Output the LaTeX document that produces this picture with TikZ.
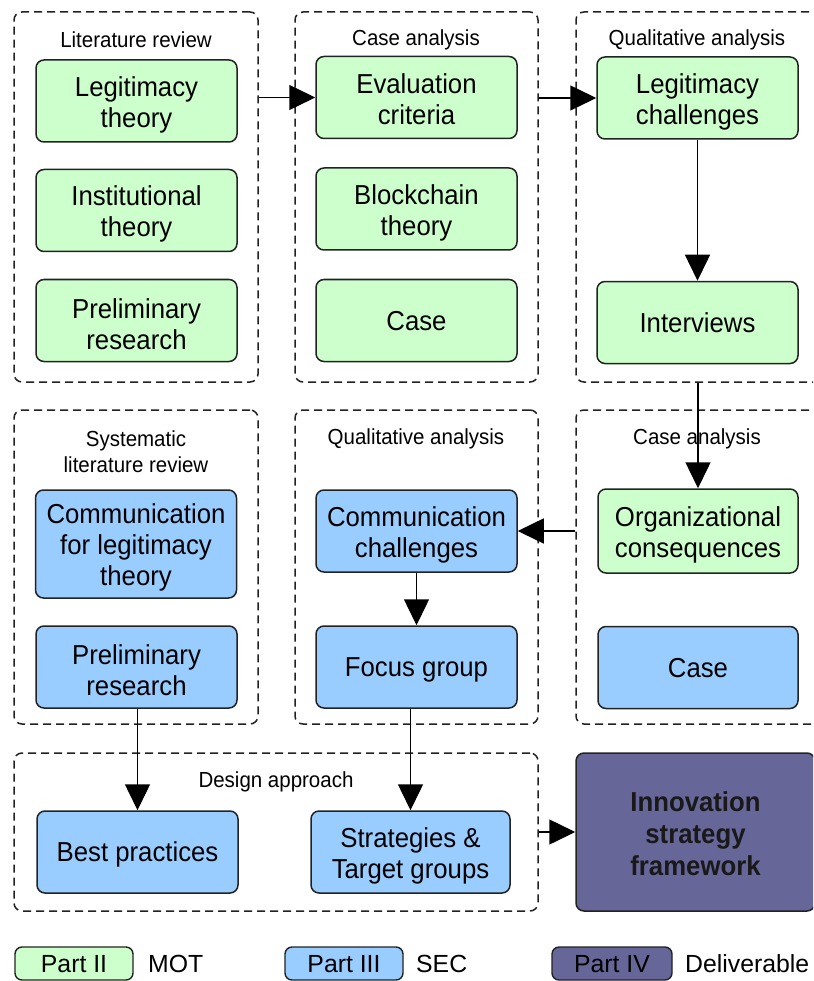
\documentclass[tikz,border=0pt]{standalone}
\usepackage{fontspec}
\setmainfont[FakeStretch=0.94]{Liberation Sans}
\newfontfamily\legendfont{Liberation Sans}
\usetikzlibrary{arrows.meta}
\definecolor{motgreen}{HTML}{CCFFCC}
\definecolor{secblue}{HTML}{99CCFF}
\definecolor{delpurple}{HTML}{666699}
\definecolor{edgegray}{HTML}{222222}
\tikzset{
  stage/.style={draw=edgegray, line width=1.5pt, dash pattern=on 8pt off 5pt,
    rounded corners=8pt, inner sep=0pt},
  stagetitle/.style={font=\fontsize{21.8}{26}\selectfont, align=center, inner sep=0pt},
  item/.style={draw=edgegray, line width=1.5pt, rounded corners=8pt,
    minimum width=201pt, minimum height=82pt, inner sep=0pt},
  itembase/.style={align=center, inner sep=0pt, font=\fontsize{27.4}{31}\selectfont},
  % several lines, last one with descenders
  itemtext/.style={itembase, yshift=-3.5pt},
  % several lines, last one without descenders
  itemflat/.style={itembase, yshift=-1.5pt},
  % a single line
  itemline/.style={itembase, text height=19.6pt, text depth=0pt},
  mot/.style={item, fill=motgreen},
  sec/.style={item, fill=secblue},
  deliv/.style={item, fill=delpurple},
  delivtext/.style={align=center, inner sep=0pt, text=black!90, yshift=-2pt,
    font=\bfseries\fontsize{27.4}{32}\selectfont},
  legendbox/.style={draw=edgegray, line width=1.4pt, rounded corners=7pt,
    minimum width=118pt, minimum height=33pt, inner sep=0pt,
    text height=17.8pt, text depth=0pt,
    font=\legendfont\fontsize{24.8}{30}\selectfont},
  legendtext/.style={anchor=west, inner sep=0pt, text height=17.8pt, text depth=0pt,
    font=\legendfont\fontsize{24.8}{30}\selectfont},
  flow/.style={line width=1.5pt, -{Triangle[length=26pt, width=25pt]}}
}
\begin{document}
\begin{tikzpicture}[x=1pt, y=-1pt]
\useasboundingbox (0,0) rectangle (813,981);
\clip (0,0) rectangle (813,981);

% ---- stage containers ----
\node[stage, minimum width=244pt, minimum height=370pt] (c1) at (136,197) {};
\node[stage, minimum width=243pt, minimum height=370pt] (c2) at (416.5,197) {};
\node[stage, minimum width=254pt, minimum height=370pt] (c3) at (703,197) {};
\node[stage, minimum width=244pt, minimum height=314pt] (c4) at (136,567) {};
\node[stage, minimum width=243pt, minimum height=314pt] (c5) at (416.5,567) {};
\node[stage, minimum width=254pt, minimum height=314pt] (c6) at (703,567) {};
\node[stage, minimum width=524pt, minimum height=158pt] (c7) at (276,832) {};

% ---- stage titles ----
\node[stagetitle] (t1) at (136,40) {Literature review};
\node[stagetitle] (t2) at (416,40) {Case analysis};
\node[stagetitle] (t3) at (697,40) {Qualitative analysis};
\node[stagetitle] (t4) at (136,452) {Systematic\\literature review};
\node[stagetitle] (t5) at (416,439) {Qualitative analysis};
\node[stagetitle] (t6) at (697,439) {Case analysis};
\node[stagetitle] (t7) at (276,782) {Design approach};

% ---- row 1 (MOT) ----
\node[mot, label={[itemtext]center:{Legitimacy\\theory}}] (lt) at (136.5,101) {};
\node[mot, label={[itemtext]center:{Institutional\\theory}}] (it) at (136.5,210.5) {};
\node[mot, label={[itemtext]center:{Preliminary\\research}}] (pr) at (136.5,320.5) {};
\node[mot, label={[itemflat]center:{Evaluation\\criteria}}] (ev) at (416.5,97.5) {};
\node[mot, label={[itemtext]center:{Blockchain\\theory}}] (bc) at (416.5,209) {};
\node[mot, label={[itemline]center:{Case}}] (ca) at (416.5,320.5) {};
\node[mot, label={[itemtext]center:{Legitimacy\\challenges}}] (lc) at (697.5,98) {};
\node[mot, label={[itemline]center:{Interviews}}] (iv) at (697.5,322.5) {};

% ---- row 2 ----
\node[sec, minimum height=108pt,
      label={[itemtext]center:{Communication\\for legitimacy\\theory}}] (cl) at (136,544) {};
\node[sec, label={[itemtext]center:{Preliminary\\research}}] (pr2) at (136.5,667) {};
\node[sec, label={[itemtext]center:{Communication\\challenges}}] (cc) at (416.5,531) {};
\node[sec, label={[itemline]center:{Focus group}}] (fg) at (416.5,667) {};
\node[mot, minimum width=200pt, minimum height=84pt,
      label={[itemtext]center:{Organizational\\consequences}}] (oc) at (698,531) {};
\node[sec, minimum width=200pt, label={[itemline]center:{Case}}] (ca2) at (698,667.5) {};

% ---- row 3 ----
\node[sec, label={[itemline]center:{Best practices}}] (bp) at (137.5,852) {};
\node[sec, minimum width=199pt,
      label={[itemtext]center:{Strategies \&\\Target groups}}] (st) at (410.5,852) {};
\node[deliv, minimum width=239pt, minimum height=158pt,
      label={[delivtext]center:{Innovation\\strategy\\framework}}] (isf) at (695.5,832) {};

% ---- connectors ----
\draw[flow] (c1.east |- ev.west) -- (ev.west);
\draw[flow] (c2.east |- lc.west) -- (lc.west);
\draw[flow] (lc.south) -- (iv.north);
\draw[flow] (c3.south -| oc.north) -- (oc.north);
\draw[flow] (c6.west |- cc.east) -- (cc.east);
\draw[flow] (cc.south) -- (fg.north);
\draw[flow] (pr2.south -| bp.north) -- (bp.north);
\draw[flow] (fg.south -| st.north) -- (st.north);
\draw[flow] (c7.east |- isf.west) -- (isf.west);

% ---- legend ----
\node[legendbox, fill=motgreen] (k2) at (74,963.5) {Part II};
\node[legendtext] (k2t) at (148,964) {MOT};
\node[legendbox, fill=secblue] (k3) at (344,963.5) {Part III};
\node[legendtext] (k3t) at (416,964) {SEC};
\node[legendbox, fill=delpurple, minimum width=120pt] (k4) at (612,963.5) {Part IV};
\node[legendtext] (k4t) at (685,964) {Deliverable};
\end{tikzpicture}
\end{document}
